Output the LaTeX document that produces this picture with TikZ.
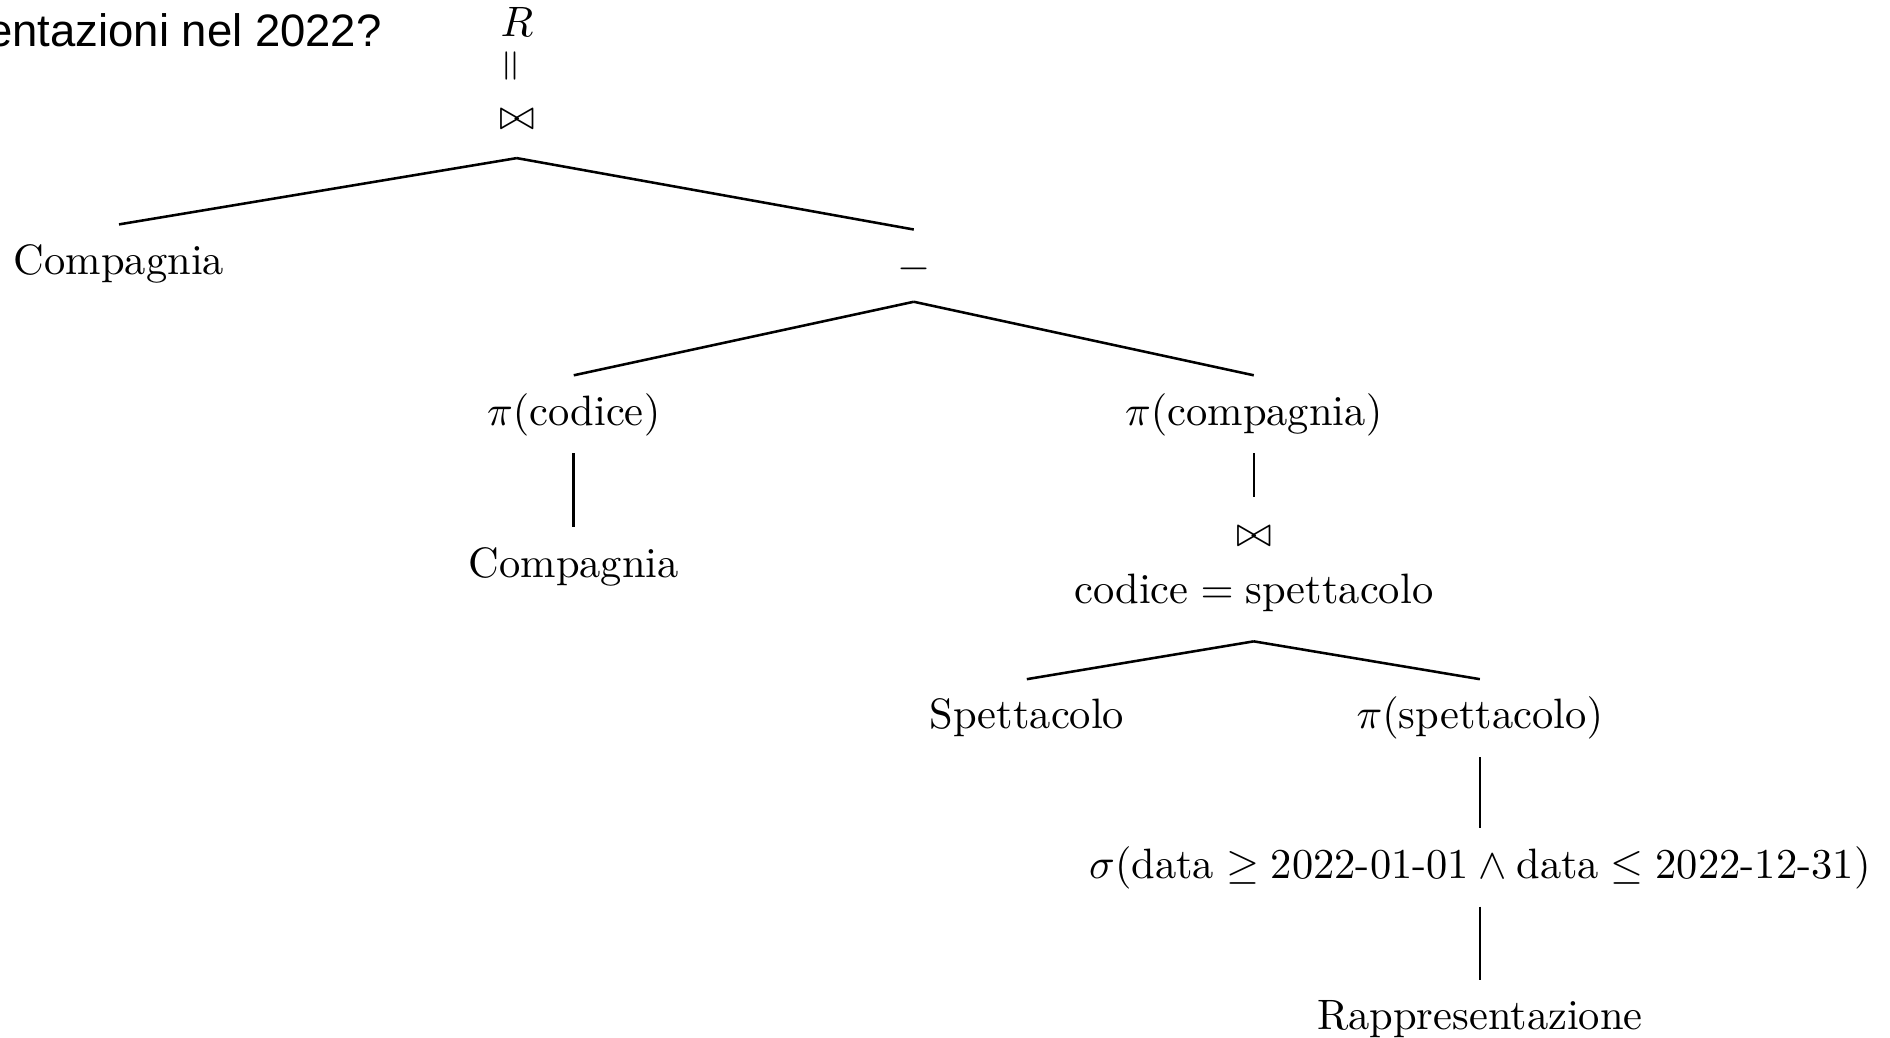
\documentclass[tikz,border=0pt]{standalone}
\usepackage{fontspec}
\usepackage{amsmath}
\newfontfamily\questionfont{Liberation Sans}
\tikzset{
    relnode/.style={inner sep=4pt, text height=7.5pt, text depth=2.5pt},
    treeedge/.style={line width=0.6pt}
}

\begin{document}
\begin{tikzpicture}[x=1pt, y=1pt]
    \useasboundingbox (0,0) rectangle (444.7,-244.2);
    % question, cut at the left border
    \node[anchor=east, inner sep=0pt] (question) at (90,-7) {\questionfont\fontsize{10.7}{12}\selectfont entazioni nel 2022?};

    % result
    \node[inner sep=0pt] (res) at (121.6,-5.2) {$R$};
    \node[inner sep=0pt] (eq) at (120.8,-15.5) {\rotatebox{90}{$=$}};
    \node[relnode] (join1) at (121.6,-28.0) {$\bowtie$};

    % left branch
    \node[relnode] (comp1) at (28,-62.0) {Compagnia};

    % difference
    \node[relnode] (diff) at (215,-63.2) {$-$};
    \coordinate (difffoot) at ([yshift=1.4pt]diff.south);
    \node[relnode] (picod) at (135,-97.5) {$\pi(\text{codice})$};
    \node[relnode] (comp2) at (135,-133.3) {Compagnia};
    \node[relnode] (picomp) at (295,-97.5) {$\pi(\text{compagnia})$};

    % join on codice = spettacolo
    \node[relnode] (join2) at (295,-126.2) {$\bowtie$};
    \node[relnode] (cond) at (295,-139.4) {$\text{codice} = \text{spettacolo}$};
    \coordinate (condfoot) at ([yshift=-2.3pt]cond.south);
    \node[relnode] (spett) at (241.6,-169.0) {Spettacolo};
    \node[relnode] (pispett) at (348.2,-169.0) {$\pi(\text{spettacolo})$};
    \node[relnode] (sel) at (348.2,-204.1) {$\sigma(\text{data} \geq \text{2022-01-01} \land \text{data} \leq \text{2022-12-31})$};
    \node[relnode] (rapp) at (348.2,-239.8) {Rappresentazione};

    % edges
    \draw[treeedge] (join1.south) -- (comp1.north);
    \draw[treeedge] (join1.south) -- (diff.north);
    \draw[treeedge] (difffoot) -- (picod.north);
    \draw[treeedge] (difffoot) -- (picomp.north);
    \draw[treeedge] (picod.south) -- (comp2.north);
    \draw[treeedge] (picomp.south) -- (join2.north);
    \draw[treeedge] (condfoot) -- (spett.north);
    \draw[treeedge] (condfoot) -- (pispett.north);
    \draw[treeedge] (pispett.south) -- (sel.north);
    \draw[treeedge] (sel.south) -- (rapp.north);
\end{tikzpicture}
\end{document}
